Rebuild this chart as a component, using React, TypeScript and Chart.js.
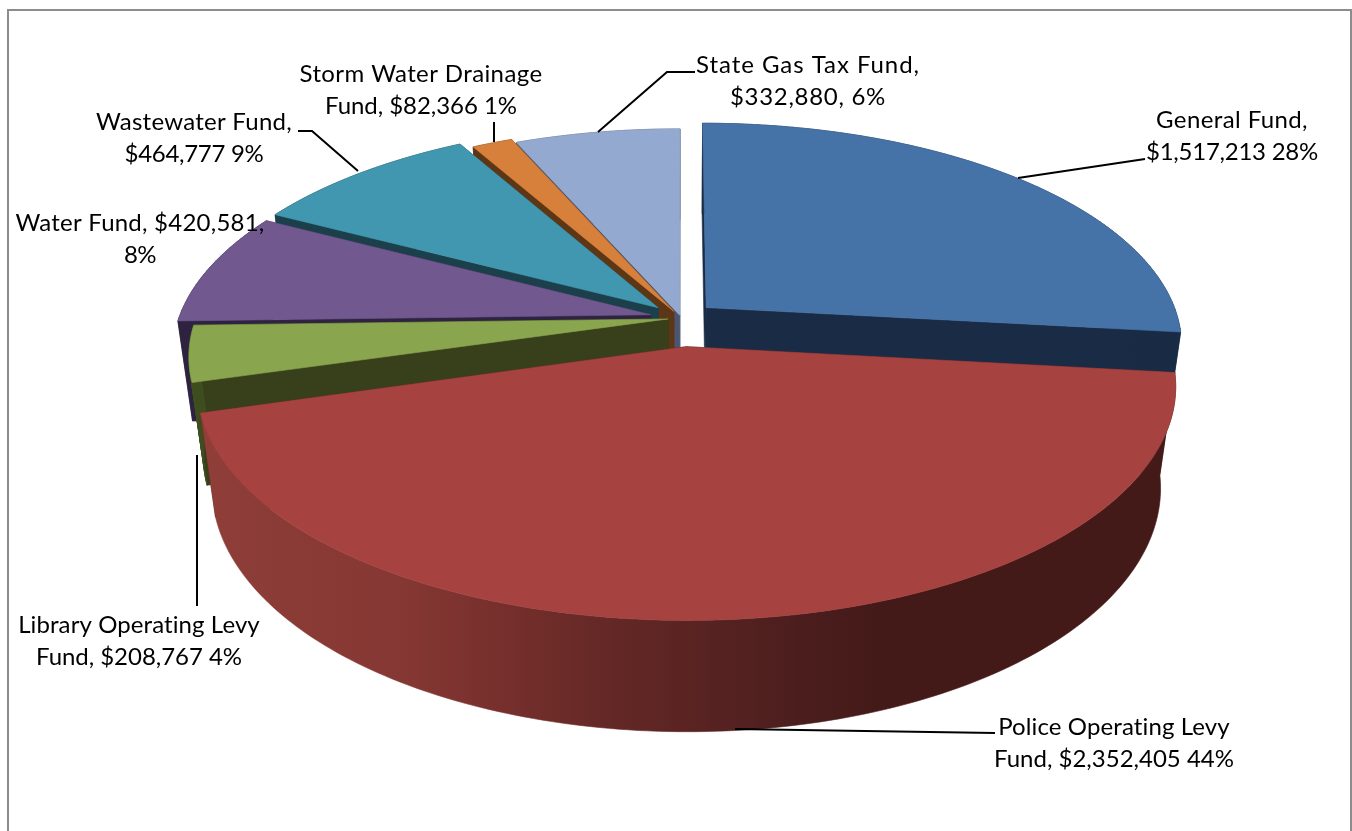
import React, { useEffect, useRef } from "react";
import { Chart, ArcElement, PieController, registerables } from "chart.js";

// Fund revenue, clockwise from twelve o'clock
const funds = [
  "General Fund",
  "Police Operating Levy Fund",
  "Library Operating Levy Fund",
  "Water Fund",
  "Wastewater Fund",
  "Storm Water Drainage Fund",
  "State Gas Tax Fund",
];
const amounts = [1517213, 2352405, 208767, 420581, 464777, 82366, 332880];

// How far each wedge is pulled out of the pie
const explode = [34, 61, 13, 31, 32, 16, 6];

const topColors = ["#4572a7", "#a64341", "#89a54e", "#71588f", "#4197af", "#d7803b", "#93a9cf"];
const cutColors = ["#1a2c45", "#431a18", "#373f1b", "#2e2340", "#1b3f4b", "#5d3615", "#4a5570"];
const sideColors = ["#1a2c45", "#431a18", "#3f4f1f", "#2e2340", "#1b3f4b", "#5d3615", "#4a5570"];

// Shading of the big front wall, left to right across the page
const frontWallStops: [number, string][] = [
  [0, "#8f3e38"],
  [0.3, "#853733"],
  [0.45, "#762f2c"],
  [0.6, "#642826"],
  [0.74, "#582322"],
  [0.88, "#4b1e1d"],
  [1, "#441a18"],
];
const FRONT_WALL_INDEX = 1;
const FRONT_WALL_X0 = 200;
const FRONT_WALL_X1 = 880;

// Back-to-front painting order
const paintOrder = [6, 5, 4, 3, 2, 0, 1];

const labelLines = [
  ["General Fund,", "$1,517,213 28%"],
  ["Police Operating Levy", "Fund, $2,352,405 44%"],
  ["Library Operating Levy", "Fund, $208,767 4%"],
  ["Water Fund, $420,581,", "8%"],
  ["Wastewater Fund,", "$464,777 9%"],
  ["Storm Water Drainage", "Fund, $82,366 1%"],
  ["State Gas Tax Fund,", "$332,880, 6%"],
];
const labelWidths = [
  [152, 172],
  [232, 240],
  [242, 206],
  [249, 32],
  [196, 139],
  [243, 192],
  [224, 156],
];
const labelCenters = [
  [1232, 120],
  [1114, 727],
  [139, 625],
  [140, 223],
  [194, 122],
  [421, 74],
  [808, 65],
];
const leaders = [
  [[1145, 159], [1018, 178]],
  [[995, 733], [735, 729]],
  [[197, 606], [197, 455]],
  [],
  [[298, 131], [312, 131], [358, 171]],
  [[494, 122], [494, 142]],
  [[695, 72], [667, 72], [598, 132]],
];

// Projection of the pie disc onto the page
const CX = 681;
const CY = 318;
const RX = 472;
const RY = 218;
const DEPTH = 103;
const PERSP = 0.165;
const SHRINK = 0.03;
const WARP = (4.7 * Math.PI) / 180;
const LINE_H = 32;
const FONT = "24px Lato";

const warp = (a: number) => a - WARP * Math.sqrt(Math.max(0, 1 + Math.sin(a)));

function project(u: number, v: number, h: number) {
  const s = 1 / (1 - PERSP * v + SHRINK * h);
  return [CX + RX * u * s, CY + (RY * v + DEPTH * h) * s];
}

class Arc3D extends ArcElement {
  static id = "arc3d";

  draw(ctx: CanvasRenderingContext2D) {
    const index = (this as any).$context.dataIndex;
    const a0 = warp((this as any).startAngle);
    const a1 = warp((this as any).endAngle);
    const off = (this as any).options.offset / RX;
    const mid = (a0 + a1) / 2;
    const ox = Math.cos(mid) * off;
    const oy = Math.sin(mid) * off;

    const steps = Math.max(2, Math.ceil(((a1 - a0) * 180) / Math.PI));
    const rim: number[][] = [];
    for (let i = 0; i <= steps; i++) {
      const a = a0 + ((a1 - a0) * i) / steps;
      rim.push([Math.cos(a) + ox, Math.sin(a) + oy]);
    }

    const fillPoly = (pts: number[][], color: string | CanvasGradient) => {
      ctx.beginPath();
      pts.forEach((p, i) => (i ? ctx.lineTo(p[0], p[1]) : ctx.moveTo(p[0], p[1])));
      ctx.closePath();
      ctx.fillStyle = color;
      ctx.strokeStyle = color;
      ctx.lineWidth = 0.6;
      ctx.fill();
      ctx.stroke();
    };

    // Cut faces along the two straight edges
    [rim[0], rim[rim.length - 1]].forEach((r) => {
      fillPoly(
        [project(ox, oy, 0), project(r[0], r[1], 0), project(r[0], r[1], 1), project(ox, oy, 1)],
        cutColors[index],
      );
    });

    // Curved outer wall: the front wedge is one shaded band, the rest are flat strips
    if (index === FRONT_WALL_INDEX) {
      const g = ctx.createLinearGradient(FRONT_WALL_X0, 0, FRONT_WALL_X1, 0);
      frontWallStops.forEach(([t, c]) => g.addColorStop(t, c));
      const upper = rim.map((r) => project(r[0], r[1], 0));
      const lower = rim.map((r) => project(r[0], r[1], 1)).reverse();
      fillPoly([...upper, ...lower], g);
    } else {
      for (let i = 0; i < steps; i++) {
        const p = rim[i];
        const q = rim[i + 1];
        fillPoly(
          [project(p[0], p[1], 0), project(q[0], q[1], 0), project(q[0], q[1], 1), project(p[0], p[1], 1)],
          sideColors[index],
        );
      }
    }

    // Top surface
    fillPoly([project(ox, oy, 0), ...rim.map((r) => project(r[0], r[1], 0))], topColors[index]);
  }
}

class Pie3DController extends PieController {
  static id = "pie3d";
  static defaults = { dataElementType: "arc3d" };

  draw() {
    const ctx = (this as any).chart.ctx;
    const arcs = (this as any)._cachedMeta.data;
    paintOrder.forEach((i) => arcs[i] && arcs[i].draw(ctx));
  }
}

Chart.register(...registerables, Arc3D, Pie3DController);

// Gray frame behind the plot, open at the bottom of the page
const framePlugin = {
  id: "frame",
  beforeDraw(chart: any) {
    const ctx = chart.ctx;
    ctx.save();
    ctx.strokeStyle = "#8c8c8c";
    ctx.lineWidth = 2;
    ctx.beginPath();
    ctx.moveTo(8, 831);
    ctx.lineTo(8, 10);
    ctx.lineTo(1351, 10);
    ctx.lineTo(1351, 831);
    ctx.stroke();
    ctx.restore();
  },
};

// Wrapped data labels and their leader lines
const labelPlugin = {
  id: "fundLabels",
  afterDatasetsDraw(chart: any) {
    const ctx = chart.ctx;
    ctx.save();
    ctx.strokeStyle = "#000000";
    ctx.lineWidth = 2;
    leaders.forEach((pts) => {
      if (!pts.length) return;
      ctx.beginPath();
      pts.forEach((p, i) => (i ? ctx.lineTo(p[0], p[1]) : ctx.moveTo(p[0], p[1])));
      ctx.stroke();
    });
    ctx.fillStyle = "#000000";
    ctx.font = FONT;
    ctx.textAlign = "center";
    ctx.textBaseline = "middle";
    labelLines.forEach((lines, i) => {
      lines.forEach((line, j) => {
        // Track each line out to its set width
        ctx.letterSpacing = "0px";
        const extra = (labelWidths[i][j] - ctx.measureText(line).width) / line.length;
        ctx.letterSpacing = `${extra.toFixed(2)}px`;
        ctx.fillText(line, labelCenters[i][0], labelCenters[i][1] + j * LINE_H);
      });
    });
    ctx.restore();
  },
};

export default function App() {
  const ref = useRef<HTMLCanvasElement>(null);

  useEffect(() => {
    const chart = new Chart(ref.current as HTMLCanvasElement, {
      type: "pie3d" as any,
      data: {
        labels: funds,
        datasets: [{ data: amounts, offset: explode, backgroundColor: topColors, borderWidth: 0 }],
      },
      options: {
        animation: false,
        responsive: false,
        devicePixelRatio: 1,
        plugins: { legend: { display: false }, tooltip: { enabled: false } },
      } as any,
      plugins: [framePlugin, labelPlugin],
    });
    return () => chart.destroy();
  }, []);

  return (
    <canvas
      ref={ref}
      width={1352}
      height={831}
      style={{ position: "fixed", left: 0, top: 0, display: "block", background: "#ffffff" }}
    />
  );
}
